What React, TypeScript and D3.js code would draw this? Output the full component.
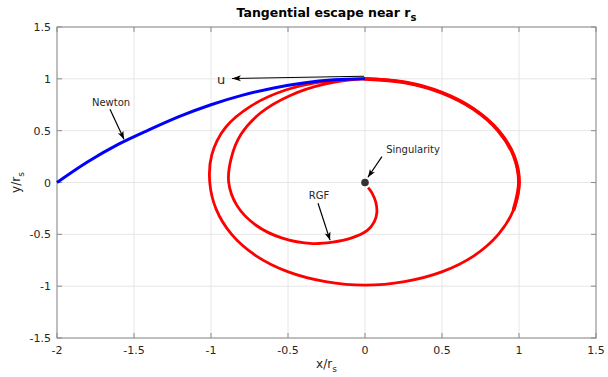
import React from "react";
import * as d3 from "d3";

type Pt = [number, number];

const xTicks = [-2, -1.5, -1, -0.5, 0, 0.5, 1, 1.5];
const yTicks = [-1.5, -1, -0.5, 0, 0.5, 1, 1.5];

// Newton trajectory (units of r_s)
const newtonPath: Pt[] = [
  [0, 1.0], [-0.2, 0.99], [-0.4, 0.96], [-0.6, 0.91], [-0.8, 0.84], [-1.0, 0.75],
  [-1.2, 0.64], [-1.4, 0.51], [-1.6, 0.37], [-1.8, 0.2], [-2, 0],
];

// RGF spiral: first (outer) loop, then inner loop into the singularity
const rgfOuter: Pt[] = [
  [0, 1.0], [-0.261, 0.976], [-0.515, 0.892], [-0.739, 0.739], [-0.909, 0.525],
  [-0.995, 0.267], [-1.008, 0], [-0.966, -0.259], [-0.866, -0.5], [-0.707, -0.707],
  [-0.498, -0.862], [-0.256, -0.956], [0, -0.99], [0.256, -0.956], [0.498, -0.862],
  [0.707, -0.707], [0.866, -0.5], [0.966, -0.259], [1.0, 0], [0.966, 0.259],
  [0.866, 0.5], [0.707, 0.707], [0.5, 0.866], [0.259, 0.966], [0, 1.0],
];
const rgfInner: Pt[] = [
  [-0.255, 0.951], [-0.485, 0.84], [-0.675, 0.675], [-0.805, 0.465], [-0.869, 0.233],
  [-0.885, 0], [-0.831, -0.223], [-0.71, -0.41], [-0.537, -0.537], [-0.34, -0.589],
  [-0.209, -0.575], [-0.095, -0.539], [0.013, -0.465], [0.06, -0.38], [0.077, -0.29],
  [0.07, -0.19], [0.045, -0.1], [0.02, -0.05],
];
const thickFrom = 17; // index in rgfOuter where the overlapping (thicker) stretch starts

const annotations = [
  { label: "Newton", text: [-1.649, 0.774] as Pt, tail: [-1.656, 0.707] as Pt, tip: [-1.565, 0.417] as Pt },
  { label: "Singularity", text: [0.312, 0.32] as Pt, tail: [0.11, 0.25] as Pt, tip: [0.019, 0.051] as Pt },
  { label: "RGF", text: [-0.299, -0.123] as Pt, tail: [-0.305, -0.2] as Pt, tip: [-0.227, -0.556] as Pt },
];
const uArrow = { label: "u", text: [-0.935, 0.996] as Pt, tail: [-0.006, 1.025] as Pt, tip: [-0.864, 1.003] as Pt };

const font = "'DejaVu Sans', sans-serif";
const ink = "#262626";

export default function App() {
  const width = 608, height = 377;
  const left = 57, right = 596, top = 27, bottom = 338;
  const x = d3.scaleLinear().domain([-2, 1.5]).range([left, right]);
  const y = d3.scaleLinear().domain([-1.5, 1.5]).range([bottom, top]);
  const line = d3
    .line<Pt>()
    .x((d) => x(d[0]))
    .y((d) => y(d[1]))
    .curve(d3.curveCatmullRom.alpha(0.5));

  const arrowHead = (tail: Pt, tip: Pt, len = 8, half = 3) => {
    const x1 = x(tail[0]), y1 = y(tail[1]), x2 = x(tip[0]), y2 = y(tip[1]);
    const a = Math.atan2(y2 - y1, x2 - x1);
    const c = Math.cos(a), s = Math.sin(a);
    const p = (u: number, v: number) => `${x2 + u * c - v * s},${y2 + u * s + v * c}`;
    return `M${p(0, 0)}L${p(-len, -half)}L${p(-len * 0.75, 0)}L${p(-len, half)}Z`;
  };

  return (
    <svg width={width} height={height} style={{ position: "absolute", left: 0, top: 0, background: "#fff" }}>
      <rect x={0} y={0} width={width} height={height} fill="#fff" />
      {/* grid */}
      {xTicks.map((t) => (
        <line key={"gx" + t} x1={x(t)} x2={x(t)} y1={top} y2={bottom} stroke="#e6e6e6" strokeWidth={1} />
      ))}
      {yTicks.map((t) => (
        <line key={"gy" + t} x1={left} x2={right} y1={y(t)} y2={y(t)} stroke="#e6e6e6" strokeWidth={1} />
      ))}
      {/* ticks */}
      {xTicks.map((t) => (
        <g key={"tx" + t}>
          <line x1={x(t)} x2={x(t)} y1={bottom} y2={bottom - 5} stroke="#8a8a8a" />
          <line x1={x(t)} x2={x(t)} y1={top} y2={top + 5} stroke="#8a8a8a" />
          <text x={x(t)} y={354} textAnchor="middle" fontFamily={font} fontSize={11} fill={ink}>{String(t)}</text>
        </g>
      ))}
      {yTicks.map((t) => (
        <g key={"ty" + t}>
          <line x1={left} x2={left + 5} y1={y(t)} y2={y(t)} stroke="#8a8a8a" />
          <line x1={right} x2={right - 5} y1={y(t)} y2={y(t)} stroke="#8a8a8a" />
          <text x={51} y={y(t) + 4} textAnchor="end" fontFamily={font} fontSize={11} fill={ink}>{String(t)}</text>
        </g>
      ))}
      <rect x={left} y={top} width={right - left} height={bottom - top} fill="none" stroke="#8a8a8a" strokeWidth={1} />

      {/* curves: red spiral first, Newton on top */}
      <path d={line([...rgfOuter, ...rgfInner]) ?? ""} fill="none" stroke="#ff0000" strokeWidth={2.8} />
      <path d={line(rgfOuter.slice(thickFrom)) ?? ""} fill="none" stroke="#ff0000" strokeWidth={3.8} strokeLinecap="round" />
      <path d={line(newtonPath) ?? ""} fill="none" stroke="#0000ff" strokeWidth={3} />
      <circle cx={x(0)} cy={y(0)} r={3.8} fill="#333" />

      {/* annotations */}
      <line x1={x(uArrow.tail[0])} y1={y(uArrow.tail[1])} x2={x(uArrow.tip[0])} y2={y(uArrow.tip[1])} stroke="#000" strokeWidth={1} />
      <path d={arrowHead(uArrow.tail, uArrow.tip, 9, 3)} fill="#000" />
      <text x={x(uArrow.text[0])} y={y(uArrow.text[1]) + 4.5} textAnchor="middle" fontFamily={font} fontSize={13} fill={ink}>{uArrow.label}</text>
      {annotations.map((a) => (
        <g key={a.label}>
          <line x1={x(a.tail[0])} y1={y(a.tail[1])} x2={x(a.tip[0])} y2={y(a.tip[1])} stroke="#000" strokeWidth={1.2} />
          <path d={arrowHead(a.tail, a.tip, 8, 3)} fill="#000" />
          <text x={x(a.text[0])} y={y(a.text[1]) + 3.5} textAnchor="middle" fontFamily={font} fontSize={10} fill={ink}>{a.label}</text>
        </g>
      ))}

      {/* title and axis labels */}
      <text x={(left + right) / 2} y={17} textAnchor="middle" fontFamily={font} fontSize={12.5} fontWeight="bold" fill="#000">
        Tangential escape near r<tspan dy={4} fontSize={10}>s</tspan>
      </text>
      <text x={(left + right) / 2} y={368} textAnchor="middle" fontFamily={font} fontSize={12} fill={ink}>
        x/r<tspan dy={4} fontSize={9}>s</tspan>
      </text>
      <text transform={`translate(20,${(top + bottom) / 2}) rotate(-90)`} textAnchor="middle" fontFamily={font} fontSize={12} fill={ink}>
        y/r<tspan dy={4} fontSize={9}>s</tspan>
      </text>
    </svg>
  );
}
